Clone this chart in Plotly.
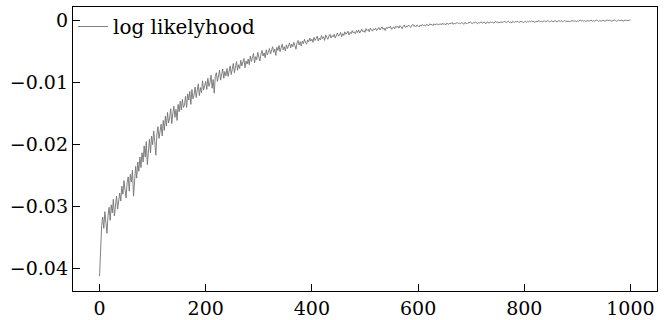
import plotly.graph_objects as go

iterations = list(range(0, 1001, 2))

log_likelihood = [
    -0.0413, -0.0352, -0.0331, -0.0318, -0.0336, -0.0309, -0.0327, -0.0344, -0.0315, -0.0302,
    -0.0323, -0.0298, -0.0311, -0.0289, -0.0316, -0.0301, -0.0284, -0.0305, -0.0293, -0.0279,
    -0.0292, -0.0268, -0.0281, -0.0259, -0.0274, -0.0287, -0.0262, -0.0253, -0.0276, -0.0249,
    -0.0261, -0.0242, -0.0284, -0.0251, -0.0236, -0.0255, -0.0229, -0.0244, -0.0221, -0.0238,
    -0.0214, -0.0229, -0.0203, -0.0221, -0.0196, -0.0233, -0.0208, -0.0192, -0.0214, -0.0187,
    -0.0201, -0.0179, -0.0196, -0.0218, -0.0184, -0.0172, -0.0191, -0.0176, -0.0168, -0.0187,
    -0.0162, -0.0178, -0.0155, -0.0171, -0.0149, -0.0166, -0.0158, -0.0143, -0.0167, -0.0151,
    -0.0139, -0.0157, -0.0144, -0.0162, -0.0136, -0.0148, -0.0131, -0.0145, -0.0128, -0.0141,
    -0.0137, -0.0123, -0.0141, -0.0119, -0.0129, -0.0115, -0.0136, -0.0112, -0.0127, -0.0121,
    -0.0108, -0.0125, -0.0114, -0.0103, -0.0122, -0.0109, -0.0117, -0.0098, -0.0113, -0.0104,
    -0.0099, -0.0112, -0.0094, -0.0107, -0.0101, -0.0089, -0.0110, -0.0096, -0.0118, -0.0091,
    -0.0085, -0.0099, -0.0092, -0.0081, -0.0097, -0.0088, -0.0079, -0.0094, -0.0083, -0.0090,
    -0.0078, -0.0091, -0.0083, -0.0074, -0.0088, -0.0079, -0.0070, -0.0085, -0.0076, -0.0067,
    -0.0081, -0.0072, -0.0078, -0.0065, -0.0074, -0.0069, -0.0062, -0.0077, -0.0066, -0.0071,
    -0.0063, -0.0072, -0.0058, -0.0067, -0.0061, -0.0054, -0.0069, -0.0059, -0.0064, -0.0052,
    -0.0060, -0.0066, -0.0055, -0.0049, -0.0058, -0.0053, -0.0061, -0.0048, -0.0056, -0.0051,
    -0.0046, -0.0055, -0.0050, -0.0043, -0.0052, -0.0047, -0.0057, -0.0044, -0.0049, -0.0041,
    -0.0051, -0.0045, -0.0039, -0.0048, -0.0043, -0.0050, -0.0040, -0.0046, -0.0042, -0.0037,
    -0.0045, -0.0039, -0.0043, -0.0036, -0.0041, -0.0047, -0.0037, -0.0033, -0.0040, -0.0035,
    -0.0042, -0.0034, -0.0038, -0.0031, -0.0036, -0.0039, -0.0032, -0.0035, -0.0029, -0.0034,
    -0.0031, -0.0036, -0.0028, -0.0033, -0.0030, -0.0026, -0.0034, -0.0029, -0.0032, -0.0025,
    -0.0030, -0.0027, -0.0033, -0.0024, -0.0028, -0.0031, -0.0026, -0.0023, -0.0029, -0.0025,
    -0.0027, -0.0023, -0.0029, -0.0025, -0.0021, -0.0026, -0.0024, -0.0020, -0.0027, -0.0022,
    -0.0025, -0.0019, -0.0023, -0.0021, -0.0018, -0.0024, -0.0020, -0.0022, -0.0017, -0.0021,
    -0.0019, -0.0022, -0.0017, -0.0020, -0.0016, -0.0021, -0.0018, -0.0015, -0.0019, -0.0017,
    -0.0020, -0.0014, -0.0017, -0.0015, -0.0019, -0.0013, -0.0016, -0.0018, -0.0014, -0.0016,
    -0.0013, -0.0017, -0.0015, -0.0012, -0.0016, -0.0014, -0.0011, -0.0015, -0.0013, -0.0017,
    -0.0012, -0.0014, -0.0011, -0.0013, -0.0010, -0.0015, -0.0012, -0.0011, -0.0014, -0.0010,
    -0.0012, -0.0010, -0.0013, -0.0009, -0.0011, -0.0014, -0.0010, -0.0008, -0.0012, -0.0010,
    -0.0011, -0.0008, -0.0010, -0.0012, -0.0009, -0.0007, -0.0010, -0.0009, -0.0011, -0.0008,
    -0.0009, -0.0011, -0.0008, -0.0010, -0.0007, -0.0009, -0.0008, -0.0010, -0.0007, -0.0008,
    -0.0009, -0.0006, -0.0008, -0.0007, -0.0009, -0.0006, -0.0008, -0.0007, -0.0006, -0.0008,
    -0.0007, -0.0006, -0.0008, -0.0005, -0.0007, -0.0006, -0.0008, -0.0005, -0.0006, -0.0007,
    -0.0005, -0.0006, -0.0004, -0.0007, -0.0005, -0.0006, -0.0005, -0.0004, -0.0006, -0.0005,
    -0.0006, -0.0004, -0.0005, -0.0007, -0.0004, -0.0005, -0.0006, -0.0004, -0.0005, -0.0003,
    -0.0005, -0.0006, -0.0004, -0.0005, -0.0003, -0.0004, -0.0006, -0.0004, -0.0005, -0.0003,
    -0.0004, -0.0005, -0.0003, -0.0004, -0.0006, -0.0003, -0.0004, -0.0005, -0.0003, -0.0004,
    -0.0003, -0.0005, -0.0004, -0.0002, -0.0004, -0.0003, -0.0005, -0.0003, -0.0004, -0.0003,
    -0.0004, -0.0002, -0.0003, -0.0004, -0.0003, -0.0002, -0.0004, -0.0003, -0.0005, -0.0002,
    -0.0003, -0.0004, -0.0002, -0.0003, -0.0002, -0.0004, -0.0003, -0.0002, -0.0003, -0.0004,
    -0.0003, -0.0002, -0.0004, -0.0002, -0.0003, -0.0002, -0.0003, -0.0001, -0.0003, -0.0002,
    -0.0004, -0.0002, -0.0003, -0.0002, -0.0001, -0.0003, -0.0002, -0.0003, -0.0002, -0.0001,
    -0.0003, -0.0002, -0.0001, -0.0002, -0.0003, -0.0002, -0.0001, -0.0003, -0.0002, -0.0001,
    -0.0002, -0.0003, -0.0001, -0.0002, -0.0002, -0.0001, -0.0003, -0.0002, -0.0001, -0.0002,
    -0.0002, -0.0001, -0.0002, -0.0003, -0.0001, -0.0002, -0.0001, -0.0002, -0.0001, -0.0003,
    -0.0001, -0.0002, -0.0001, -0.0000, -0.0002, -0.0001, -0.0002, -0.0001, -0.0002, -0.0001,
    -0.0001, -0.0002, -0.0001, -0.0000, -0.0002, -0.0001, -0.0002, -0.0001, -0.0000, -0.0001,
    -0.0002, -0.0001, -0.0001, -0.0002, -0.0000, -0.0001, -0.0002, -0.0001, -0.0000, -0.0001,
    -0.0001, -0.0000, -0.0002, -0.0001, -0.0001, -0.0000, -0.0001, -0.0002, -0.0001, -0.0000,
    -0.0001, -0.0001, -0.0000, -0.0002, -0.0001, -0.0000, -0.0001, -0.0001, -0.0000, -0.0001,
    -0.0000,
]

x_tick_vals = [0, 200, 400, 600, 800, 1000]
x_tick_text = ["0", "200", "400", "600", "800", "1000"]
y_tick_vals = [-0.04, -0.03, -0.02, -0.01, 0.0]
y_tick_text = ["\u22120.04", "\u22120.03", "\u22120.02", "\u22120.01", "0"]

FONT = "DejaVu Serif"

fig = go.Figure()
fig.add_trace(go.Scatter(
    x=iterations, y=log_likelihood, mode="lines",
    name="log likelyhood",
    line=dict(color="#737373", width=0.9),
))

axis_common = dict(
    showline=True, linecolor="black", linewidth=1.3, mirror=True,
    ticks="inside", ticklen=7, tickwidth=1, tickcolor="black",
    showgrid=False, zeroline=False,
    tickfont=dict(family=FONT, size=19, color="black"),
)

fig.update_layout(
    width=669, height=320,
    margin=dict(l=73, r=12, t=7, b=29, autoexpand=False),
    paper_bgcolor="white", plot_bgcolor="white",
    font=dict(family=FONT),
    xaxis=dict(range=[-50, 1050], tickvals=x_tick_vals, ticktext=x_tick_text,
               ticklabelstandoff=0, **axis_common),
    yaxis=dict(range=[-0.0437, 0.0021], tickvals=y_tick_vals, ticktext=y_tick_text,
               ticklabelstandoff=0, **axis_common),
    showlegend=True,
    legend=dict(
        x=0.0, y=1.0, xanchor="left", yanchor="top",
        bgcolor="rgba(255,255,255,0)", borderwidth=0,
        font=dict(family=FONT, size=20, color="black"),
    ),
)

fig.write_html("out.html")
